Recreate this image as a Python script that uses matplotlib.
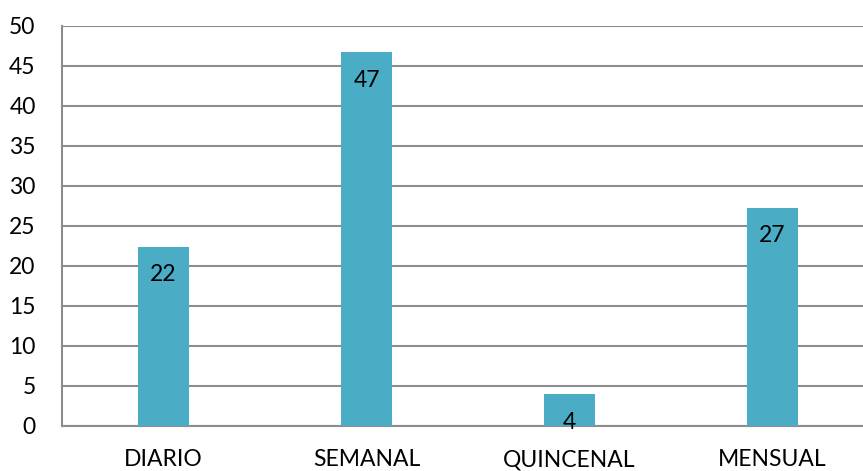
import matplotlib.pyplot as plt
import numpy as np

categories = ["DIARIO", "SEMANAL", "QUINCENAL", "MENSUAL"]
values = [22.35, 46.65, 3.9, 27.2]
labels = ["22", "47", "4", "27"]
yticks = [0, 5, 10, 15, 20, 25, 30, 35, 40, 45, 50]

plt.rcParams['font.family'] = ['Lato', 'DejaVu Sans']

W, H = 863, 471
fig = plt.figure(figsize=(W / 100, H / 100), dpi=100)
# plot area runs past the right edge of the picture (cropped chart)
ax = fig.add_axes([62 / W, (H - 425.5) / H, 812 / W, 400 / H])

x = np.arange(len(categories))
ax.bar(x, values, width=0.25, color="#4BACC6", zorder=3)

for xi, v, lab in zip(x, values, labels):
    ax.annotate(lab, (xi, v), xytext=(0, -12.5), textcoords="offset points",
                ha="center", va="top", fontsize=16.5, color="black", zorder=4)

ax.set_xlim(-0.5, 3.5)
ax.set_ylim(0, 50)
ax.set_yticks(yticks)
ax.set_xticks(x)
ax.set_xticklabels(categories)
ax.yaxis.grid(True, color="#8c8c8c", linewidth=1.5, zorder=0)
ax.tick_params(axis="both", length=0, labelsize=16.5)
ax.tick_params(axis="y", pad=19)
ax.tick_params(axis="x", pad=17)

for s in ["top", "right"]:
    ax.spines[s].set_visible(False)
for s in ["left", "bottom"]:
    ax.spines[s].set_color("#8c8c8c")
    ax.spines[s].set_linewidth(1.5)

fig.savefig("out.png", dpi=100)
